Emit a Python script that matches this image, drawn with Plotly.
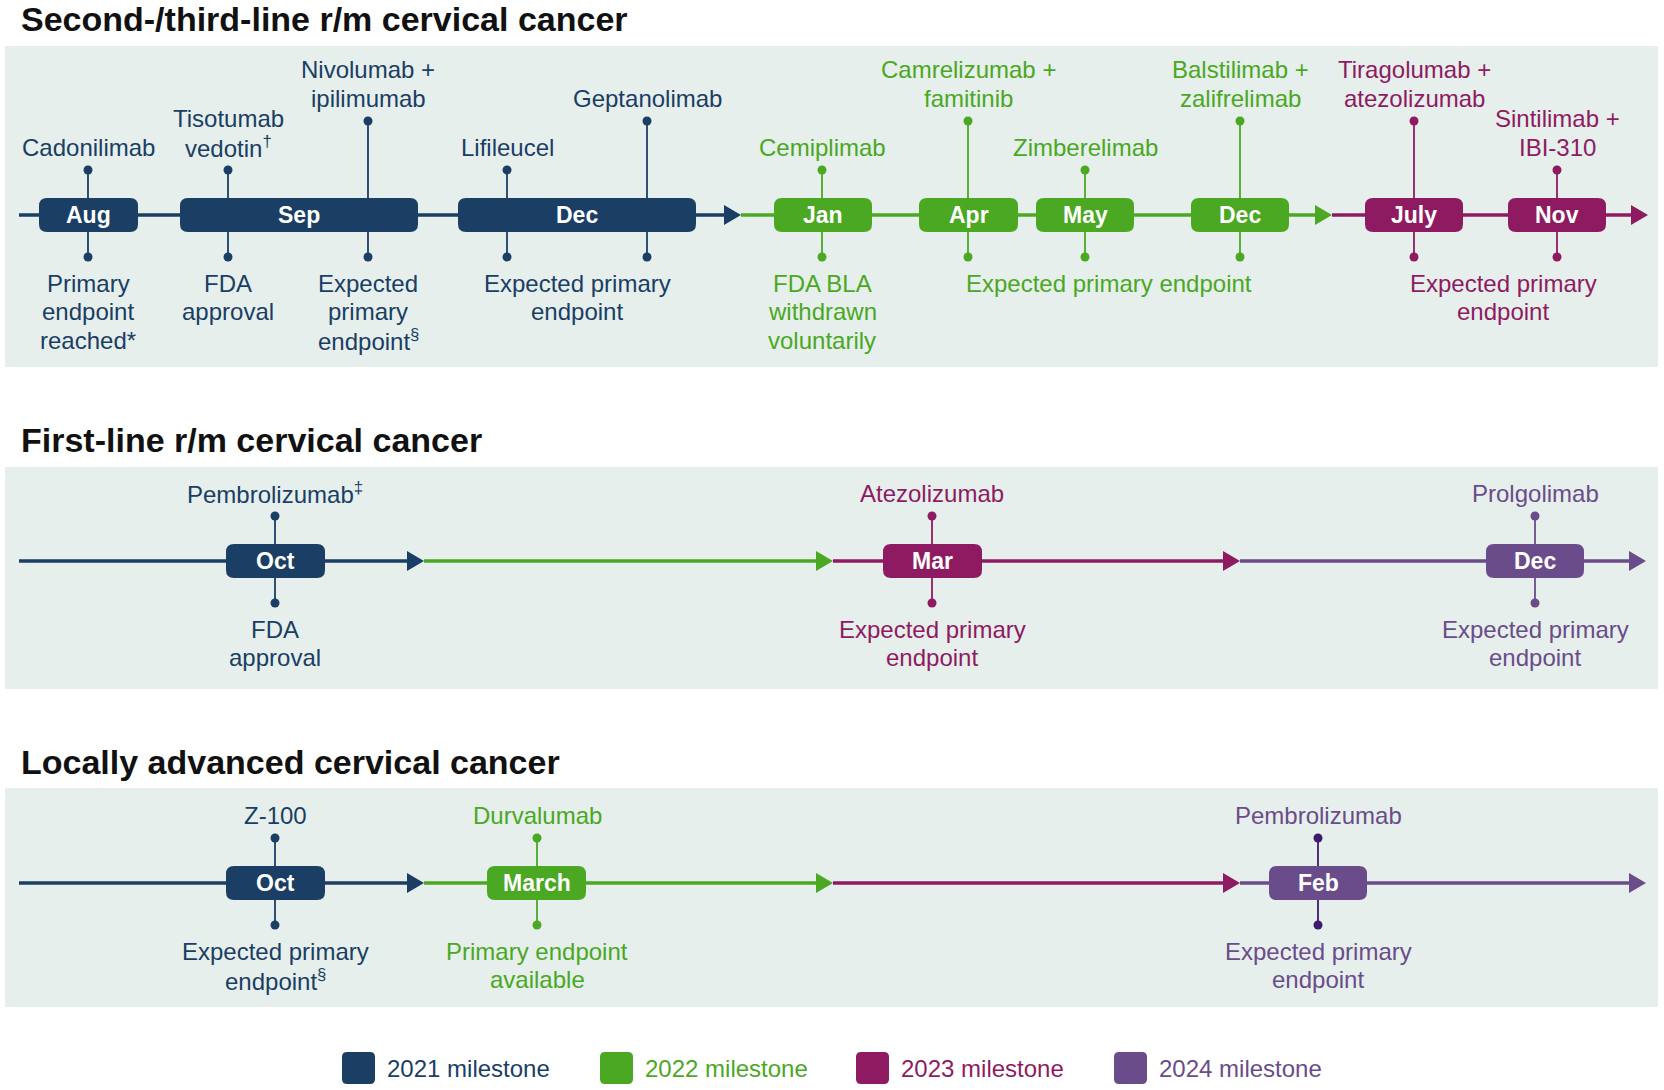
import plotly.graph_objects as go

W, H = 1664, 1090
FONT = "Liberation Sans, Arial, Helvetica, sans-serif"
YEAR_COLOR = {2021: "#1a3e64", 2022: "#4aa823", 2023: "#8e1b62", 2024: "#6a4c8a"}
PANEL_BG = "#e6efec"

# ---------------- data ----------------
panel_titles = ["Second-/third-line r/m cervical cancer",
                "First-line r/m cervical cancer",
                "Locally advanced cervical cancer"]
panel_title_y = [19, 440, 762]
panel_top = [46, 467, 788]
panel_bottom = [367, 689, 1007]
axis_y = [215, 561, 883]

# timeline segments (start, arrow tip, year)
seg_start = [[19, 741, 1332], [19, 424, 833, 1240], [19, 424, 833, 1240]]
seg_end = [[741, 1332, 1648], [424, 833, 1240, 1646], [424, 833, 1240, 1646]]
seg_year = [[2021, 2022, 2023], [2021, 2022, 2023, 2024], [2021, 2022, 2023, 2024]]

# month boxes
box_month = [["Aug", "Sep", "Dec", "Jan", "Apr", "May", "Dec", "July", "Nov"],
             ["Oct", "Mar", "Dec"],
             ["Oct", "March", "Feb"]]
box_start = [[39, 180, 458, 774, 919, 1036, 1191, 1365, 1508],
             [226, 883, 1486],
             [226, 487, 1269]]
box_end = [[138, 418, 696, 872, 1018, 1134, 1289, 1463, 1606],
           [325, 982, 1584],
           [325, 586, 1367]]
box_year = [[2021, 2021, 2021, 2022, 2022, 2022, 2022, 2023, 2023],
            [2021, 2023, 2024],
            [2021, 2022, 2024]]

# milestone stems (drug names on top)
stem_x = [[88, 228, 368, 507, 647, 822, 968, 1085, 1240, 1414, 1557],
          [275, 932, 1535],
          [275, 537, 1318]]
stem_label = [["Cadonilimab", "Tisotumab\nvedotin<sup>†</sup>", "Nivolumab +\nipilimumab",
               "Lifileucel", "Geptanolimab", "Cemiplimab", "Camrelizumab +\nfamitinib",
               "Zimberelimab", "Balstilimab +\nzalifrelimab", "Tiragolumab +\natezolizumab",
               "Sintilimab +\nIBI-310"],
              ["Pembrolizumab<sup>‡</sup>", "Atezolizumab", "Prolgolimab"],
              ["Z-100", "Durvalumab", "Pembrolizumab"]]
stem_tall = [[0, 0, 1, 0, 1, 0, 1, 0, 1, 1, 0],
             [0, 0, 0],
             [0, 0, 0]]
stem_year = [[2021, 2021, 2021, 2021, 2021, 2022, 2022, 2022, 2022, 2023, 2023],
             [2021, 2023, 2024],
             [2021, 2022, 2024]]
stem_dark = [[None] * 11, [None] * 3, [None, None, "#3d1a6e"]]

# outcome texts below the timeline
below_x = [[88, 228, 368, 577, 822, 1109, 1503],
           [275, 932, 1535],
           [275, 537, 1318]]
below_label = [["Primary\nendpoint\nreached*", "FDA\napproval", "Expected\nprimary\nendpoint<sup>§</sup>",
                "Expected primary\nendpoint", "FDA BLA\nwithdrawn\nvoluntarily",
                "Expected primary endpoint", "Expected primary\nendpoint"],
               ["FDA\napproval", "Expected primary\nendpoint", "Expected primary\nendpoint"],
               ["Expected primary\nendpoint<sup>§</sup>", "Primary endpoint\navailable", "Expected primary\nendpoint"]]
below_year = [[2021, 2021, 2021, 2021, 2022, 2022, 2023],
              [2021, 2023, 2024],
              [2021, 2022, 2024]]

legend_years = [2021, 2022, 2023, 2024]
legend_labels = ["2021 milestone", "2022 milestone", "2023 milestone", "2024 milestone"]
legend_x = [342, 600, 856, 1114]
legend_y = 1068

# ---------------- style constants ----------------
BOX_HALF = 17
DOT_UP_SHORT, DOT_UP_TALL, DOT_DOWN = 45, 94, 42
LINE_GAP = 28.7
LABEL_SIZE = 24


def rrect(x0, y0, x1, y1, r):
    return (f"M{x0+r},{y0} L{x1-r},{y0} Q{x1},{y0} {x1},{y0+r} L{x1},{y1-r} "
            f"Q{x1},{y1} {x1-r},{y1} L{x0+r},{y1} Q{x0},{y1} {x0},{y1-r} "
            f"L{x0},{y0+r} Q{x0},{y0} {x0+r},{y0} Z")


fig = go.Figure()
shapes = []
annotations = []


def add_text(x, y, text, color, size=LABEL_SIZE, bold=False):
    t = f"<b>{text}</b>" if bold else text
    annotations.append(dict(x=x, y=y, text=t, showarrow=False, xanchor="center",
                            yanchor="middle", font=dict(family=FONT, size=size, color=color)))


def add_lines(x, y_last, text, color, upward):
    lines = text.split("\n")
    n = len(lines)
    for i, ln in enumerate(lines):
        if upward:
            yy = y_last - (n - 1 - i) * LINE_GAP
        else:
            yy = y_last + i * LINE_GAP
        add_text(x, yy, ln, color)


for p in range(3):
    ay = axis_y[p]
    # panel background
    shapes.append(dict(type="rect", xref="x", yref="y", x0=5, x1=1658,
                       y0=panel_top[p], y1=panel_bottom[p], fillcolor=PANEL_BG,
                       line=dict(width=0), layer="below"))
    # title
    annotations.append(dict(x=19, y=panel_title_y[p], text=f"<b>{panel_titles[p]}</b>",
                            showarrow=False, xanchor="left", yanchor="middle",
                            font=dict(family=FONT, size=34, color="#111111")))
    # timeline segments
    for s0, s1, yr in zip(seg_start[p], seg_end[p], seg_year[p]):
        col = YEAR_COLOR[yr]
        fig.add_trace(go.Scatter(x=[s0, s1 - 10], y=[ay, ay], mode="lines",
                                 line=dict(color=col, width=3.5), hoverinfo="skip",
                                 showlegend=False))
        shapes.append(dict(type="path", xref="x", yref="y",
                           path=f"M{s1-17},{ay-10} L{s1},{ay} L{s1-17},{ay+10} Z",
                           fillcolor=col, line=dict(width=0), layer="above"))
    # stems + dots
    for x, lab, tall, yr, dark in zip(stem_x[p], stem_label[p], stem_tall[p],
                                      stem_year[p], stem_dark[p]):
        col = YEAR_COLOR[yr]
        scol = dark or col
        ytop = ay - (DOT_UP_TALL if tall else DOT_UP_SHORT)
        ybot = ay + DOT_DOWN
        fig.add_trace(go.Scatter(x=[x, x], y=[ytop, ybot], mode="lines+markers",
                                 line=dict(color=scol, width=1.8),
                                 marker=dict(size=9, color=scol), hoverinfo="skip",
                                 showlegend=False))
        add_lines(x, ytop - 23, lab, col, upward=True)
    # boxes
    for m, b0, b1, yr in zip(box_month[p], box_start[p], box_end[p], box_year[p]):
        col = YEAR_COLOR[yr]
        shapes.append(dict(type="path", xref="x", yref="y",
                           path=rrect(b0, ay - BOX_HALF, b1, ay + BOX_HALF, 8),
                           fillcolor=col, line=dict(width=0), layer="above"))
        add_text((b0 + b1) / 2, ay, m, "#ffffff", size=23, bold=True)
    # texts below
    for x, lab, yr in zip(below_x[p], below_label[p], below_year[p]):
        add_lines(x, ay + DOT_DOWN + 26, lab, YEAR_COLOR[yr], upward=False)

# legend
for yr, lab, lx in zip(legend_years, legend_labels, legend_x):
    col = YEAR_COLOR[yr]
    shapes.append(dict(type="path", xref="x", yref="y",
                       path=rrect(lx, legend_y - 16, lx + 33, legend_y + 16, 5),
                       fillcolor=col, line=dict(width=0), layer="above"))
    annotations.append(dict(x=lx + 43, y=legend_y, text=lab, showarrow=False,
                            xanchor="left", yanchor="middle",
                            font=dict(family=FONT, size=LABEL_SIZE, color=col)))

fig.update_layout(
    width=W, height=H, margin=dict(l=0, r=0, t=0, b=0),
    paper_bgcolor="white", plot_bgcolor="white",
    xaxis=dict(range=[0, W], visible=False, fixedrange=True),
    yaxis=dict(range=[H, 0], visible=False, fixedrange=True),
    shapes=shapes, annotations=annotations, showlegend=False,
)

fig.write_html("out.html", post_script="document.body.style.margin='0';",
               config={"displayModeBar": False})
